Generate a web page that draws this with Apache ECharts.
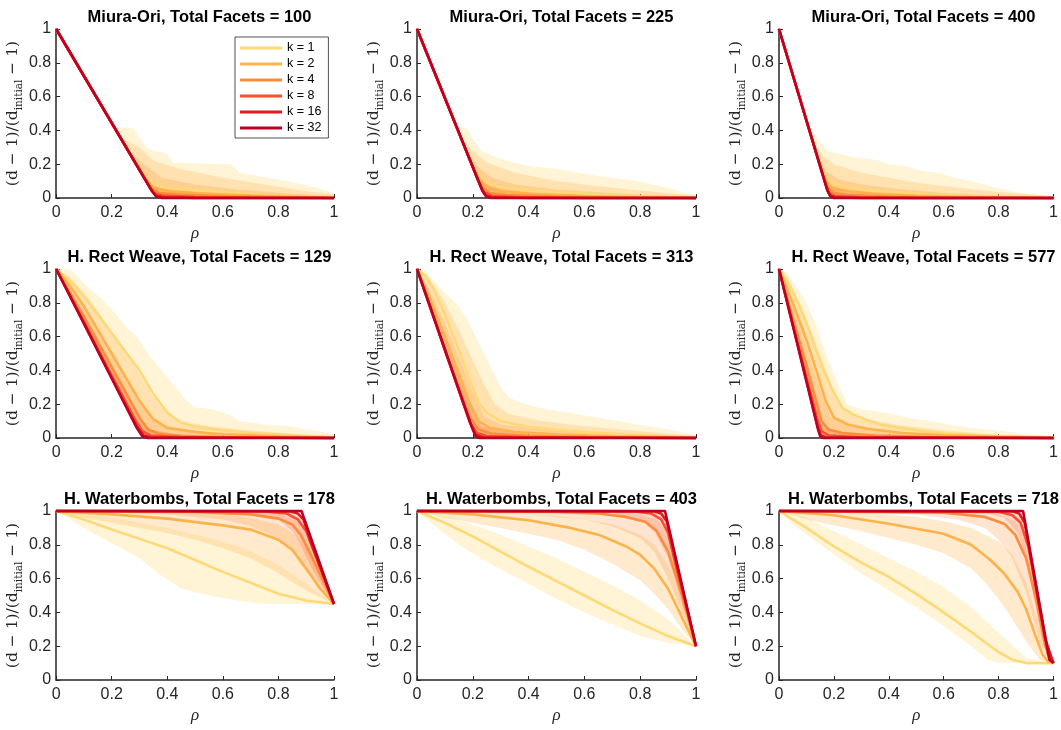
<!DOCTYPE html>
<html>
<head>
<meta charset="utf-8">
<script src="https://cdn.jsdelivr.net/npm/echarts@6/dist/echarts.min.js"></script>
<style>
  html, body { margin: 0; padding: 0; background: #fff; }
  #chart { width: 1061px; height: 730px; }
</style>
</head>
<body>
<div id="chart"></div>
<script>
// ---- Series settings ----
const kValues = [1, 2, 4, 8, 16, 32];
const kColors = ['#fed976', '#feb24c', '#fd8d3c', '#fc4e2a', '#e31a1c', '#bd0026'];
const bandOpacity = [0.3, 0.28, 0.24, 0.22];

const panelTitles = [
  'Miura-Ori, Total Facets = 100', 'Miura-Ori, Total Facets = 225', 'Miura-Ori, Total Facets = 400',
  'H. Rect Weave, Total Facets = 129', 'H. Rect Weave, Total Facets = 313', 'H. Rect Weave, Total Facets = 577',
  'H. Waterbombs, Total Facets = 178', 'H. Waterbombs, Total Facets = 403', 'H. Waterbombs, Total Facets = 718'
];

// ---- Mean curves, one array per k (1, 2, 4, 8, 16, 32), points are [rho, value] ----
const miura100Means = [
  [[0,1],[0.25,0.306],[0.3,0.18],[0.33,0.11],[0.36,0.075],[0.4,0.06],[0.5,0.045],[0.6,0.035],[0.7,0.025],[0.8,0.015],[0.9,0.008],[1,0.002]],
  [[0,1],[0.28,0.222],[0.32,0.12],[0.35,0.06],[0.4,0.04],[0.5,0.028],[0.7,0.014],[0.9,0.005],[1,0]],
  [[0,1],[0.3,0.167],[0.34,0.06],[0.37,0.03],[0.45,0.02],[0.6,0.01],[0.8,0.004],[1,0]],
  [[0,1],[0.32,0.11],[0.35,0.03],[0.38,0.015],[0.5,0.006],[0.7,0.002],[1,0]],
  [[0,1],[0.34,0.056],[0.36,0.012],[0.39,0.004],[0.5,0.001],[1,0]],
  [[0,1],[0.345,0.04],[0.36,0.01],[0.38,0],[1,0]]
];
const miura225Means = [
  [[0,1],[0.17,0.306],[0.2,0.19],[0.23,0.12],[0.26,0.08],[0.3,0.065],[0.4,0.045],[0.5,0.035],[0.6,0.025],[0.7,0.018],[0.8,0.01],[0.9,0.005],[1,0.001]],
  [[0,1],[0.19,0.224],[0.22,0.12],[0.25,0.06],[0.3,0.04],[0.4,0.025],[0.6,0.012],[0.8,0.004],[1,0]],
  [[0,1],[0.21,0.143],[0.235,0.06],[0.26,0.03],[0.32,0.018],[0.5,0.008],[0.7,0.003],[1,0]],
  [[0,1],[0.22,0.1],[0.24,0.035],[0.27,0.012],[0.35,0.005],[0.6,0.001],[1,0]],
  [[0,1],[0.23,0.06],[0.245,0.015],[0.27,0.004],[0.4,0],[1,0]],
  [[0,1],[0.235,0.04],[0.248,0.01],[0.265,0],[1,0]]
];
const miura400Means = [
  [[0,1],[0.13,0.297],[0.15,0.2],[0.17,0.13],[0.2,0.085],[0.25,0.065],[0.3,0.05],[0.4,0.035],[0.5,0.025],[0.6,0.017],[0.7,0.01],[0.8,0.006],[0.9,0.003],[1,0.001]],
  [[0,1],[0.145,0.216],[0.165,0.12],[0.19,0.06],[0.25,0.04],[0.35,0.025],[0.5,0.013],[0.7,0.005],[1,0]],
  [[0,1],[0.16,0.135],[0.178,0.06],[0.2,0.03],[0.25,0.018],[0.4,0.008],[0.6,0.003],[1,0]],
  [[0,1],[0.168,0.09],[0.182,0.03],[0.2,0.012],[0.3,0.004],[0.5,0.001],[1,0]],
  [[0,1],[0.174,0.06],[0.186,0.015],[0.205,0.004],[0.3,0],[1,0]],
  [[0,1],[0.176,0.045],[0.187,0.01],[0.2,0],[1,0]]
];
const weave129Means = [
  [[0,1],[0.05,0.93],[0.1,0.84],[0.15,0.73],[0.2,0.62],[0.25,0.51],[0.3,0.4],[0.35,0.26],[0.4,0.15],[0.45,0.09],[0.5,0.065],[0.6,0.045],[0.7,0.03],[0.8,0.02],[0.9,0.01],[1,0.004]],
  [[0,1],[0.05,0.9],[0.1,0.78],[0.15,0.64],[0.2,0.5],[0.25,0.36],[0.3,0.22],[0.35,0.11],[0.4,0.06],[0.5,0.035],[0.6,0.022],[0.8,0.01],[1,0.002]],
  [[0,1],[0.1,0.72],[0.2,0.42],[0.25,0.27],[0.3,0.12],[0.33,0.05],[0.37,0.025],[0.45,0.012],[0.6,0.005],[1,0]],
  [[0,1],[0.1,0.69],[0.2,0.37],[0.28,0.12],[0.31,0.04],[0.34,0.015],[0.45,0.005],[1,0]],
  [[0,1],[0.1,0.68],[0.2,0.355],[0.29,0.07],[0.315,0.015],[0.34,0.004],[1,0]],
  [[0,1],[0.1,0.677],[0.2,0.352],[0.29,0.06],[0.31,0.01],[0.33,0],[1,0]]
];
const weave313Means = [
  [[0,1],[0.03,0.96],[0.06,0.88],[0.1,0.73],[0.15,0.52],[0.19,0.34],[0.22,0.21],[0.25,0.15],[0.3,0.1],[0.4,0.065],[0.5,0.048],[0.6,0.035],[0.75,0.02],[0.9,0.01],[1,0.003]],
  [[0,1],[0.05,0.81],[0.1,0.6],[0.15,0.38],[0.19,0.2],[0.22,0.1],[0.26,0.06],[0.35,0.035],[0.5,0.02],[0.7,0.01],[1,0.002]],
  [[0,1],[0.05,0.77],[0.1,0.53],[0.15,0.3],[0.19,0.12],[0.22,0.05],[0.27,0.025],[0.4,0.012],[0.6,0.005],[1,0]],
  [[0,1],[0.05,0.765],[0.1,0.52],[0.15,0.28],[0.19,0.09],[0.215,0.03],[0.25,0.012],[0.4,0.004],[1,0]],
  [[0,1],[0.1,0.52],[0.19,0.095],[0.21,0.02],[0.235,0.004],[1,0]],
  [[0,1],[0.1,0.524],[0.195,0.07],[0.21,0.01],[0.225,0],[1,0]]
];
const weave577Means = [
  [[0,1],[0.03,0.93],[0.075,0.78],[0.1,0.68],[0.135,0.52],[0.165,0.39],[0.195,0.285],[0.23,0.18],[0.27,0.14],[0.315,0.11],[0.37,0.08],[0.434,0.06],[0.55,0.035],[0.67,0.02],[0.8,0.01],[1,0.003]],
  [[0,1],[0.05,0.8],[0.1,0.58],[0.14,0.38],[0.17,0.22],[0.2,0.12],[0.25,0.08],[0.32,0.055],[0.45,0.03],[0.6,0.016],[0.8,0.007],[1,0.001]],
  [[0,1],[0.05,0.71],[0.1,0.43],[0.13,0.25],[0.155,0.1],[0.18,0.05],[0.23,0.03],[0.35,0.015],[0.55,0.006],[1,0]],
  [[0,1],[0.05,0.68],[0.1,0.36],[0.14,0.11],[0.155,0.04],[0.18,0.015],[0.3,0.004],[1,0]],
  [[0,1],[0.05,0.67],[0.1,0.34],[0.142,0.06],[0.153,0.015],[0.17,0.004],[1,0]],
  [[0,1],[0.05,0.667],[0.1,0.333],[0.143,0.045],[0.15,0.01],[0.16,0],[1,0]]
];
const bombs178Means = [
  [[0,1],[0.1,0.95],[0.2,0.89],[0.3,0.835],[0.4,0.78],[0.5,0.71],[0.6,0.64],[0.7,0.575],[0.8,0.51],[0.9,0.47],[1,0.45]],
  [[0,1],[0.2,0.98],[0.4,0.955],[0.6,0.915],[0.7,0.89],[0.8,0.83],[0.85,0.77],[0.9,0.66],[0.95,0.54],[1,0.45]],
  [[0,1],[0.5,0.995],[0.7,0.98],[0.8,0.955],[0.85,0.92],[0.88,0.86],[0.92,0.73],[0.96,0.59],[1,0.45]],
  [[0,1],[0.75,0.998],[0.83,0.985],[0.87,0.95],[0.9,0.88],[0.94,0.71],[1,0.45]],
  [[0,1],[0.84,0.998],[0.87,0.985],[0.89,0.95],[0.92,0.8],[1,0.45]],
  [[0,1],[0.883,1],[1,0.45]]
];
const bombs403Means = [
  [[0,1],[0.1,0.93],[0.2,0.85],[0.3,0.76],[0.4,0.67],[0.5,0.585],[0.6,0.5],[0.7,0.415],[0.8,0.335],[0.9,0.26],[1,0.2]],
  [[0,1],[0.2,0.98],[0.4,0.945],[0.55,0.9],[0.65,0.86],[0.75,0.79],[0.8,0.74],[0.85,0.66],[0.9,0.54],[0.95,0.37],[1,0.2]],
  [[0,1],[0.5,0.995],[0.65,0.985],[0.75,0.965],[0.82,0.935],[0.86,0.88],[0.9,0.76],[0.95,0.5],[1,0.2]],
  [[0,1],[0.78,0.998],[0.84,0.985],[0.875,0.95],[0.9,0.87],[0.93,0.66],[0.97,0.4],[1,0.2]],
  [[0,1],[0.85,0.998],[0.875,0.985],[0.895,0.94],[0.93,0.69],[1,0.2]],
  [[0,1],[0.889,1],[1,0.2]]
];
const bombs718Means = [
  [[0,1],[0.1,0.9],[0.2,0.79],[0.3,0.695],[0.4,0.61],[0.5,0.51],[0.6,0.4],[0.7,0.285],[0.77,0.2],[0.8,0.165],[0.85,0.12],[0.9,0.1],[1,0.1]],
  [[0,1],[0.2,0.975],[0.4,0.925],[0.6,0.865],[0.7,0.8],[0.77,0.71],[0.82,0.63],[0.87,0.52],[0.9,0.42],[0.93,0.28],[0.96,0.15],[0.98,0.11],[1,0.1]],
  [[0,1],[0.6,0.99],[0.75,0.965],[0.82,0.925],[0.86,0.86],[0.9,0.72],[0.94,0.45],[0.97,0.2],[1,0.1]],
  [[0,1],[0.8,0.995],[0.85,0.975],[0.88,0.93],[0.91,0.78],[0.95,0.42],[0.98,0.15],[1,0.1]],
  [[0,1],[0.85,0.998],[0.875,0.985],[0.895,0.93],[0.93,0.6],[0.97,0.24],[1,0.1]],
  [[0,1],[0.889,1],[0.985,0.12],[1,0.1]]
];

// ---- Spread of the individual runs for k = 1, 2, 4, 8 ----
// Rows 1-2: upper edge only (the lower edge is the k = 32 curve).
const miura100Spread = [
  [[0.21,0.42],[0.28,0.41],[0.3,0.36],[0.33,0.29],[0.4,0.26],[0.42,0.21],[0.63,0.2],[0.66,0.15],[0.83,0.1],[0.94,0.06],[1,0.03]],
  [[0.23,0.36],[0.3,0.3],[0.35,0.22],[0.45,0.17],[0.6,0.12],[0.75,0.08],[0.9,0.04],[1,0.02]],
  [[0.26,0.28],[0.33,0.18],[0.38,0.12],[0.5,0.08],[0.65,0.05],[0.85,0.025],[1,0.01]],
  [[0.29,0.2],[0.35,0.08],[0.42,0.05],[0.6,0.025],[0.8,0.012],[1,0.005]]
];
const miura225Spread = [
  [[0.14,0.43],[0.18,0.41],[0.2,0.35],[0.23,0.28],[0.27,0.25],[0.32,0.22],[0.4,0.19],[0.51,0.17],[0.65,0.13],[0.79,0.1],[0.9,0.06],[0.96,0.03],[1,0.02]],
  [[0.16,0.35],[0.2,0.28],[0.25,0.21],[0.35,0.15],[0.5,0.1],[0.65,0.07],[0.8,0.045],[0.95,0.02],[1,0.01]],
  [[0.18,0.27],[0.22,0.18],[0.27,0.12],[0.35,0.08],[0.5,0.05],[0.7,0.03],[0.9,0.012],[1,0.005]],
  [[0.2,0.19],[0.24,0.09],[0.3,0.05],[0.45,0.025],[0.7,0.01],[1,0.003]]
];
const miura400Spread = [
  [[0.12,0.4],[0.15,0.33],[0.18,0.28],[0.22,0.26],[0.28,0.24],[0.34,0.23],[0.4,0.2],[0.46,0.19],[0.52,0.16],[0.58,0.15],[0.64,0.12],[0.7,0.1],[0.79,0.06],[0.88,0.03],[1,0.01]],
  [[0.13,0.32],[0.16,0.25],[0.2,0.2],[0.3,0.15],[0.4,0.12],[0.5,0.09],[0.65,0.06],[0.8,0.035],[1,0.01]],
  [[0.145,0.24],[0.17,0.16],[0.22,0.11],[0.3,0.08],[0.45,0.05],[0.6,0.03],[0.8,0.015],[1,0.005]],
  [[0.155,0.17],[0.18,0.08],[0.24,0.045],[0.35,0.025],[0.5,0.012],[0.75,0.005],[1,0.002]]
];
const weave129Spread = [
  [[0,1],[0.05,1],[0.08,0.95],[0.12,0.88],[0.16,0.83],[0.2,0.76],[0.25,0.66],[0.29,0.6],[0.33,0.5],[0.38,0.4],[0.43,0.3],[0.47,0.22],[0.5,0.18],[0.56,0.17],[0.62,0.14],[0.66,0.1],[0.75,0.08],[0.84,0.07],[0.9,0.05],[0.95,0.04],[1,0.02]],
  [[0,1],[0.05,0.95],[0.1,0.86],[0.15,0.75],[0.2,0.63],[0.25,0.52],[0.3,0.38],[0.35,0.24],[0.4,0.14],[0.45,0.1],[0.55,0.07],[0.7,0.045],[0.85,0.025],[1,0.01]],
  [[0,1],[0.05,0.9],[0.1,0.78],[0.15,0.64],[0.2,0.5],[0.25,0.37],[0.3,0.22],[0.35,0.1],[0.42,0.06],[0.55,0.035],[0.75,0.018],[1,0.005]],
  [[0,1],[0.1,0.73],[0.2,0.43],[0.25,0.28],[0.3,0.12],[0.34,0.05],[0.42,0.025],[0.6,0.01],[1,0.002]]
];
const weave313Spread = [
  [[0,1],[0.03,0.99],[0.06,0.93],[0.1,0.86],[0.15,0.78],[0.18,0.7],[0.21,0.6],[0.24,0.5],[0.27,0.4],[0.3,0.3],[0.33,0.24],[0.37,0.21],[0.46,0.17],[0.55,0.15],[0.61,0.13],[0.72,0.1],[0.83,0.07],[0.9,0.05],[0.99,0.02],[1,0.01]],
  [[0,1],[0.05,0.93],[0.1,0.8],[0.15,0.64],[0.2,0.46],[0.24,0.32],[0.28,0.2],[0.33,0.14],[0.45,0.1],[0.6,0.07],[0.8,0.04],[1,0.01]],
  [[0,1],[0.05,0.86],[0.1,0.68],[0.15,0.48],[0.2,0.27],[0.24,0.13],[0.3,0.08],[0.45,0.05],[0.65,0.03],[0.85,0.015],[1,0.005]],
  [[0,1],[0.05,0.8],[0.1,0.58],[0.15,0.37],[0.2,0.16],[0.23,0.07],[0.3,0.04],[0.5,0.02],[0.75,0.008],[1,0.002]]
];
const weave577Spread = [
  [[0,1],[0.03,0.98],[0.06,0.9],[0.1,0.8],[0.13,0.69],[0.15,0.6],[0.17,0.5],[0.195,0.4],[0.22,0.3],[0.25,0.2],[0.3,0.17],[0.39,0.15],[0.47,0.12],[0.55,0.1],[0.65,0.07],[0.76,0.05],[0.85,0.035],[0.91,0.02],[1,0.01]],
  [[0,1],[0.04,0.92],[0.08,0.78],[0.12,0.62],[0.16,0.45],[0.2,0.28],[0.23,0.18],[0.3,0.12],[0.42,0.08],[0.6,0.045],[0.8,0.02],[1,0.005]],
  [[0,1],[0.04,0.84],[0.08,0.64],[0.12,0.44],[0.16,0.24],[0.19,0.12],[0.25,0.07],[0.35,0.045],[0.55,0.02],[0.8,0.008],[1,0.002]],
  [[0,1],[0.04,0.76],[0.08,0.52],[0.12,0.3],[0.15,0.12],[0.18,0.05],[0.25,0.03],[0.4,0.014],[0.7,0.004],[1,0]]
];
// Row 3: [upper edge, lower edge] for each k.
const bombs178Spread = [
  [[[0,1],[0.1,0.99],[0.2,0.96],[0.3,0.93],[0.4,0.9],[0.5,0.86],[0.6,0.82],[0.7,0.76],[0.8,0.68],[0.9,0.57],[1,0.45]],
   [[0,1],[0.05,0.95],[0.1,0.9],[0.2,0.81],[0.3,0.72],[0.36,0.64],[0.45,0.54],[0.55,0.5],[0.65,0.47],[0.75,0.45],[1,0.45]]],
  [[[0,1],[0.4,0.995],[0.6,0.98],[0.7,0.96],[0.8,0.92],[0.85,0.87],[0.9,0.78],[0.95,0.63],[1,0.45]],
   [[0,1],[0.1,0.96],[0.2,0.93],[0.3,0.9],[0.4,0.87],[0.5,0.83],[0.6,0.78],[0.7,0.72],[0.8,0.63],[0.9,0.53],[1,0.45]]],
  [[[0,1],[0.7,0.998],[0.8,0.985],[0.85,0.96],[0.88,0.92],[0.92,0.8],[0.96,0.64],[1,0.45]],
   [[0,1],[0.4,0.98],[0.6,0.95],[0.7,0.91],[0.8,0.84],[0.85,0.76],[0.9,0.64],[0.95,0.54],[1,0.45]]],
  [[[0,1],[0.85,1],[0.88,0.98],[0.9,0.92],[0.94,0.72],[1,0.45]],
   [[0,1],[0.7,0.99],[0.8,0.95],[0.85,0.88],[0.88,0.8],[0.92,0.66],[0.96,0.55],[1,0.45]]]
];
const bombs403Spread = [
  [[[0,1],[0.1,0.97],[0.2,0.92],[0.3,0.86],[0.4,0.79],[0.5,0.72],[0.6,0.64],[0.7,0.56],[0.8,0.47],[0.9,0.36],[1,0.2]],
   [[0,1],[0.05,0.93],[0.15,0.8],[0.25,0.7],[0.4,0.57],[0.5,0.48],[0.6,0.4],[0.7,0.33],[0.8,0.26],[0.9,0.22],[1,0.2]]],
  [[[0,1],[0.3,0.99],[0.5,0.97],[0.6,0.95],[0.7,0.92],[0.8,0.86],[0.85,0.8],[0.9,0.68],[0.95,0.47],[1,0.2]],
   [[0,1],[0.1,0.96],[0.3,0.9],[0.5,0.83],[0.6,0.77],[0.7,0.69],[0.8,0.59],[0.85,0.51],[0.9,0.42],[0.95,0.3],[1,0.2]]],
  [[[0,1],[0.7,0.995],[0.8,0.98],[0.86,0.95],[0.9,0.86],[0.95,0.55],[1,0.2]],
   [[0,1],[0.4,0.98],[0.6,0.95],[0.7,0.91],[0.8,0.84],[0.85,0.76],[0.9,0.6],[0.95,0.4],[1,0.2]]],
  [[[0,1],[0.86,1],[0.89,0.97],[0.92,0.76],[0.96,0.47],[1,0.2]],
   [[0,1],[0.7,0.99],[0.8,0.95],[0.85,0.88],[0.9,0.72],[0.95,0.45],[1,0.2]]]
];
const bombs718Spread = [
  [[[0,1],[0.1,0.96],[0.2,0.88],[0.3,0.8],[0.4,0.72],[0.5,0.64],[0.6,0.55],[0.7,0.43],[0.8,0.28],[0.9,0.13],[1,0.1]],
   [[0,1],[0.05,0.92],[0.15,0.8],[0.3,0.63],[0.4,0.53],[0.5,0.43],[0.6,0.32],[0.7,0.2],[0.76,0.12],[0.8,0.1],[1,0.1]]],
  [[[0,1],[0.3,0.99],[0.5,0.965],[0.6,0.94],[0.7,0.9],[0.8,0.82],[0.85,0.74],[0.9,0.58],[0.95,0.3],[1,0.1]],
   [[0,1],[0.1,0.95],[0.3,0.88],[0.5,0.8],[0.6,0.75],[0.7,0.66],[0.75,0.58],[0.8,0.48],[0.85,0.36],[0.9,0.23],[0.95,0.12],[1,0.1]]],
  [[[0,1],[0.7,0.995],[0.8,0.98],[0.86,0.94],[0.9,0.84],[0.95,0.4],[1,0.1]],
   [[0,1],[0.5,0.98],[0.65,0.95],[0.75,0.9],[0.8,0.83],[0.85,0.72],[0.9,0.52],[0.95,0.22],[1,0.1]]],
  [[[0,1],[0.86,1],[0.885,0.98],[0.92,0.7],[0.96,0.33],[1,0.1]],
   [[0,1],[0.75,0.99],[0.82,0.96],[0.87,0.87],[0.91,0.66],[0.95,0.3],[0.98,0.12],[1,0.1]]]
];

const panelMeans = [miura100Means, miura225Means, miura400Means,
                    weave129Means, weave313Means, weave577Means,
                    bombs178Means, bombs403Means, bombs718Means];
const panelSpreads = [miura100Spread, miura225Spread, miura400Spread,
                      weave129Spread, weave313Spread, weave577Spread,
                      bombs178Spread, bombs403Spread, bombs718Spread];

// ---- Layout of the 3 x 3 panels (pixels) ----
const colLeft = [55, 417, 779];
const rowTop = [29, 269, 511];
const plotW = 279, plotH = 169;

const axisColor = '#262626';
const grids = [], xAxes = [], yAxes = [], titles = [], series = [];

for (let p = 0; p < 9; p++) {
  const r = Math.floor(p / 3), c = p % 3;
  grids.push({ left: colLeft[c], top: rowTop[r], width: plotW, height: plotH });
  titles.push({
    text: panelTitles[p],
    left: colLeft[c] + plotW / 2, top: rowTop[r] - 25, textAlign: 'center',
    textStyle: { fontFamily: 'Liberation Sans', fontSize: 16.5, fontWeight: 'bold', color: '#000' }
  });
  xAxes.push({
    gridIndex: p, type: 'value', min: 0, max: 1, interval: 0.2,
    axisLine: { show: true, onZero: false, lineStyle: { color: axisColor, width: 1.5 } },
    axisTick: { show: true, inside: true, length: 4, lineStyle: { color: axisColor } },
    axisLabel: { color: axisColor, fontSize: 16, fontFamily: 'Liberation Sans', margin: 7 },
    splitLine: { show: false },
    name: 'ρ', nameLocation: 'middle', nameGap: 27,
    nameTextStyle: { fontFamily: 'Liberation Serif', fontStyle: 'italic', fontSize: 17, color: axisColor }
  });
  yAxes.push({
    gridIndex: p, type: 'value', min: 0, max: 1, interval: 0.2,
    axisLine: { show: true, onZero: false, lineStyle: { color: axisColor, width: 1.5 } },
    axisTick: { show: true, inside: true, length: 4, lineStyle: { color: axisColor } },
    axisLabel: { color: axisColor, fontSize: 16, fontFamily: 'Liberation Sans', margin: 5 },
    splitLine: { show: false },
    name: '(d − 1)/(d{sub|initial} − 1)', nameLocation: 'middle', nameRotate: 90, nameGap: 26,
    nameTextStyle: {
      fontFamily: 'DejaVu Serif', fontSize: 15.5, color: axisColor, lineHeight: 24,
      rich: { sub: { fontFamily: 'DejaVu Serif', fontSize: 10.5, color: axisColor, verticalAlign: 'bottom', lineHeight: 13 } }
    }
  });

  const means = panelMeans[p];
  const spreads = panelSpreads[p];
  // faint bands for the individual runs, widest (k = 1) first
  spreads.forEach((band, i) => {
    const upper = r < 2 ? band : band[0];
    const lower = r < 2 ? means[5] : band[1];
    series.push({
      type: 'custom', name: 'runs k = ' + kValues[i], xAxisIndex: p, yAxisIndex: p, silent: true,
      data: [[0, 0]],
      renderItem: (params, api) => {
        const pts = upper.map(pt => api.coord(pt))
          .concat(lower.slice().reverse().map(pt => api.coord(pt)));
        return { type: 'polygon', shape: { points: pts },
                 style: { fill: kColors[i], opacity: bandOpacity[i] } };
      }
    });
  });
  // mean curves, k = 32 on top
  means.forEach((curve, i) => {
    series.push({
      type: 'line', name: 'k = ' + kValues[i], xAxisIndex: p, yAxisIndex: p,
      data: curve, showSymbol: false, symbol: 'none', clip: false,
      lineStyle: { color: kColors[i], width: 2.6 },
      itemStyle: { color: kColors[i] }
    });
  });
}

const chart = echarts.init(document.getElementById('chart'), null, { renderer: 'canvas' });
chart.setOption({
  animation: false,
  backgroundColor: '#fff',
  title: titles,
  grid: grids,
  xAxis: xAxes,
  yAxis: yAxes,
  legend: {
    data: kValues.map(k => 'k = ' + k),
    orient: 'vertical', left: 235, top: 37,
    icon: 'rect', itemWidth: 42, itemHeight: 3, itemGap: 2,
    padding: [4, 7, 3, 5],
    borderColor: axisColor, borderWidth: 0.8, backgroundColor: '#fff',
    selectedMode: false,
    textStyle: { fontFamily: 'Liberation Sans', fontSize: 12.5, color: '#000', lineHeight: 14 }
  },
  series: series
});
</script>
</body>
</html>
